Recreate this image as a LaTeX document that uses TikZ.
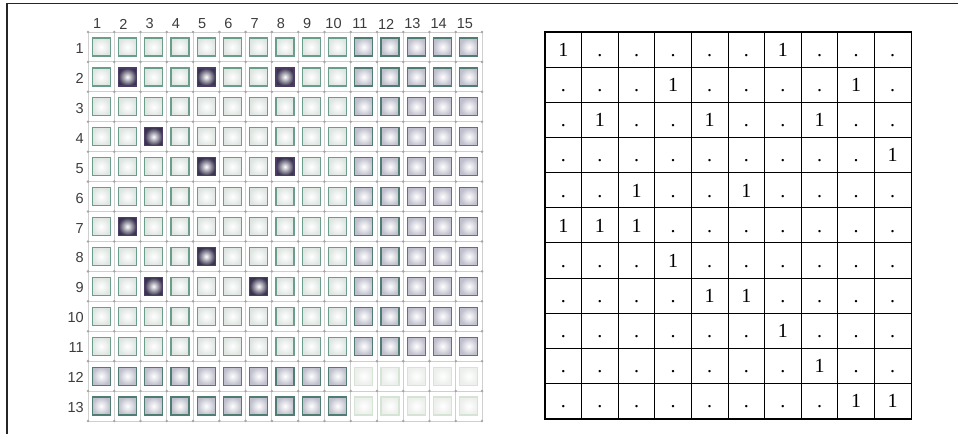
\documentclass[tikz,border=0pt]{standalone}
\usepackage{fontspec}
\setmainfont{Liberation Serif}
\newfontfamily\gridfont{Liberation Sans}
\usepackage{xstring}
\usetikzlibrary{positioning, calc}

\definecolor{lightedge}{HTML}{6A9E8A}
\definecolor{grayedge}{HTML}{4F7D72}
\definecolor{darkedge}{HTML}{4B3C66}
\definecolor{fadeedge}{HTML}{D6E4D6}
\definecolor{lightglow}{HTML}{DFE6E2}
\definecolor{grayglow}{HTML}{BFBFCD}
\definecolor{darkglow}{HTML}{3A3450}
\definecolor{fadeglow}{HTML}{ECEFEC}
\definecolor{gridgray}{HTML}{CFCFCF}
\definecolor{dotgray}{HTML}{A6A6A6}
\definecolor{labelgray}{HTML}{3C3C3C}

\def\darkcells{,2-2,2-5,2-8,4-3,5-5,5-8,7-2,8-5,9-3,9-7,}

\begin{document}
\begin{tikzpicture}[
        x=1pt, y=-1pt,
        cellbox/.style={draw=lightedge, line width=1.2pt, minimum size=18pt, inner sep=0pt, shading=radial, inner color=white, outer color=lightglow},
        graybox/.style={cellbox, draw=grayedge, outer color=grayglow},
        darkbox/.style={cellbox, draw=darkedge, outer color=darkglow},
        fadebox/.style={cellbox, draw=fadeedge, outer color=fadeglow},
        gridline/.style={draw=gridgray, line width=0.9pt},
        griddot/.style={fill=dotgray},
        collabel/.style={text=labelgray, font=\gridfont\fontsize{14.5}{16}\selectfont, inner sep=0pt},
        rowlabel/.style={collabel, anchor=east},
        tabcell/.style={draw=black, line width=0.9pt, minimum width=36.6pt, minimum height=35.1pt, inner sep=0pt, text height=13.6pt, text depth=0pt, font=\fontsize{20}{22}\selectfont},
        frameline/.style={draw=black!85, line width=1.6pt}
    ]

    \useasboundingbox (0,0) rectangle (958,434);
    \draw[frameline] (7,434) -- (7,3.5) -- (958,3.5);

    % left board
    \foreach \k in {0,...,15}
        \draw[gridline] ({88+26.27*\k},32) -- ({88+26.27*\k},421);
    \foreach \k in {0,...,13}
        \draw[gridline] (88,{32+29.92*\k}) -- (482,{32+29.92*\k});
    \foreach \i in {0,...,15}
        \foreach \j in {0,...,13}
            \fill[griddot] ({88+26.27*\i},{32+29.92*\j}) circle (1.4);

    \foreach \r in {1,...,13}
        \foreach \c in {1,...,15} {
            \ifnum\r>11 \ifnum\c>10 \def\kind{fadebox}\else\def\kind{graybox}\fi
            \else \ifnum\c>10 \def\kind{graybox}\else\def\kind{cellbox}\fi\fi
            \IfSubStr{\darkcells}{,\r-\c,}{\def\kind{darkbox}}{}
            \node[\kind] (sq-\r-\c) at ({101.1+26.27*(\c-1)},{47+29.92*(\r-1)}) {};
        }

    \foreach \c in {1,...,15}
        \node[collabel] (col-\c) at ({97.1+26.27*(\c-1)},24) {\c};
    \foreach \r in {1,...,13}
        \node[rowlabel] (row-\r) at (84,{48.5+29.92*(\r-1)}) {\r};

    % right table
    \foreach \row [count=\r] in {{1,0,0,0,0,0,1,0,0,0},{0,0,0,1,0,0,0,0,1,0},{0,1,0,0,1,0,0,1,0,0},{0,0,0,0,0,0,0,0,0,1},{0,0,1,0,0,1,0,0,0,0},{1,1,1,0,0,0,0,0,0,0},{0,0,0,1,0,0,0,0,0,0},{0,0,0,0,1,1,0,0,0,0},{0,0,0,0,0,0,1,0,0,0},{0,0,0,0,0,0,0,1,0,0},{0,0,0,0,0,0,0,0,1,1}}
        \foreach \v [count=\c] in \row
            \node[tabcell] (t-\r-\c) at ({563.3+36.6*(\c-1)},{49.85+35.1*(\r-1)}) {\ifnum\v=1 1\else .\fi};

    \draw[line width=1.3pt] (t-1-1.north west) rectangle (t-11-10.south east);

\end{tikzpicture}
\end{document}
